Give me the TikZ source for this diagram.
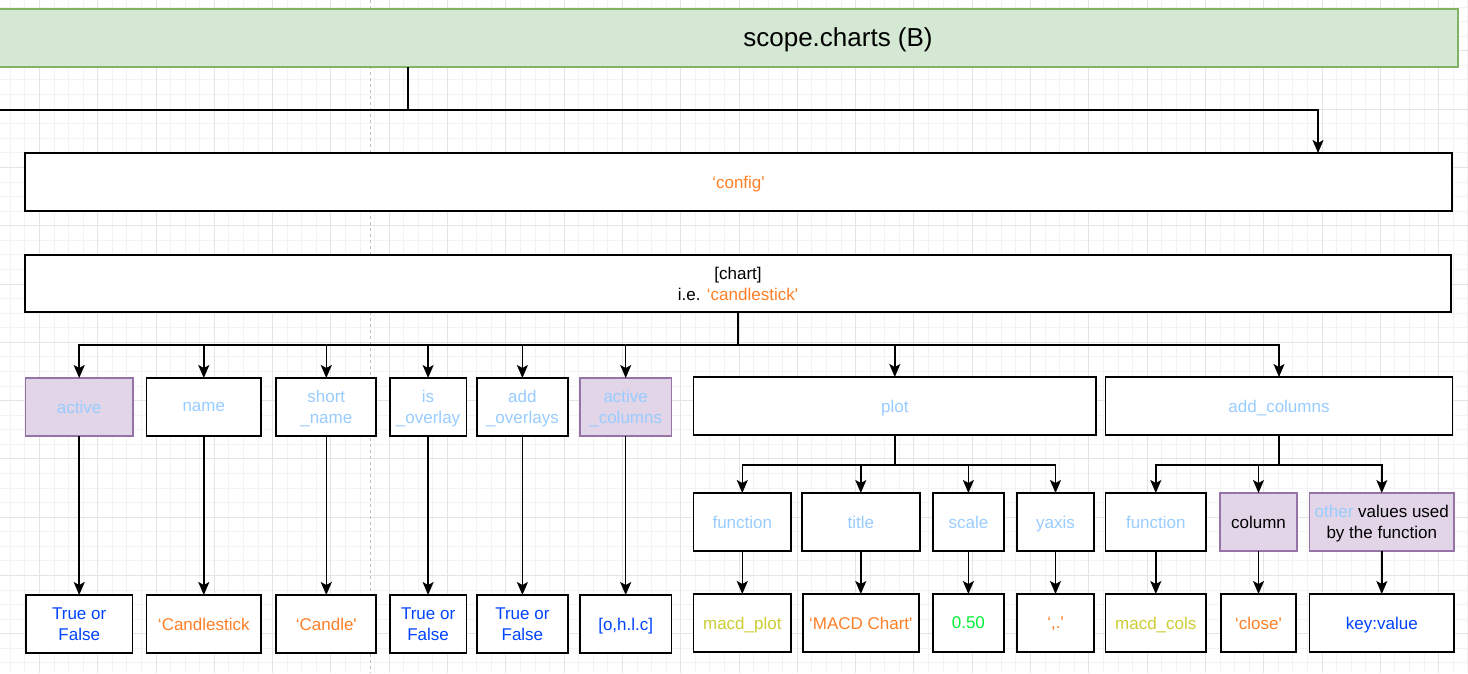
\documentclass[tikz,border=0pt]{standalone}
\usepackage{fontspec}
\setmainfont{Liberation Sans}
\usetikzlibrary{positioning,arrows.meta,backgrounds}

\definecolor{keyblue}{HTML}{99CCFF}
\definecolor{valblue}{HTML}{0044FF}
\definecolor{strorange}{HTML}{FF7F27}
\definecolor{fnyellow}{HTML}{CCCC33}
\definecolor{numgreen}{HTML}{00EE33}
\definecolor{setfill}{HTML}{E1D5E7}
\definecolor{setdraw}{HTML}{9673A6}
\definecolor{scopefill}{HTML}{D5E8D4}
\definecolor{scopedraw}{HTML}{82B366}
\definecolor{gridminor}{HTML}{F3F3F3}
\definecolor{gridmajor}{HTML}{E4E4E4}

\begin{document}
\begin{tikzpicture}[x=1pt, y=-1pt, node distance=43pt,
  font=\fontsize{17}{21}\selectfont,
  box/.style={draw, line width=1.7pt, fill=white, inner sep=0pt, outer sep=0pt,
              align=center, minimum height=58pt, text depth=-1pt},
  keybox/.style={box, text=keyblue},
  setbox/.style={box, draw=setdraw, fill=setfill},
  arr/.style={-{Stealth[length=13pt,width=11pt,inset=3pt]}, line width=1.5pt},
  bus/.style={to path={(\tikztostart.south) -- ++(0,#1) -| (\tikztotarget.north)}},
]
\useasboundingbox (0,0) rectangle (1468,673);
% grid
\foreach \i in {0,...,100} \draw[gridminor, line width=0.8pt] ({10.2+14.575*\i},0) -- ++(0,673);
\foreach \j in {0,...,46}  \draw[gridminor, line width=0.8pt] (0,{7+14.575*\j}) -- ++(1468,0);
\foreach \i in {0,...,25}  \draw[gridmajor, line width=0.8pt] ({39.35+58.3*\i},0) -- ++(0,673);
\foreach \j in {0,...,11}  \draw[gridmajor, line width=0.8pt] (0,{50.7+58.3*\j}) -- ++(1468,0);
\draw[gray!50, dashed, line width=0.8pt] (370,0) -- (370,673);

\node[box, draw=scopedraw, fill=scopefill, minimum width=1478pt, minimum height=58.5pt] (scope) at (719,38) {};
\node[font=\fontsize{26}{30}\selectfont] (scopetitle) at (838,40) {scope.charts (B)};
\node[box, text=strorange, minimum width=1427pt] (config) at (738.5,182) {‘config\textquotesingle};
\node[box, minimum width=1426pt, minimum height=57pt] (chart) at (738,283.5)
  {[chart]\\i.e. \textcolor{strorange}{‘candlestick\textquotesingle}};

\node[setbox, text=keyblue, minimum width=107.6pt] (active)  at (79.2,407)  {active};
\node[keybox, minimum width=114.8pt]               (name)    at (203.8,407) {name};
\node[keybox, minimum width=100pt]                 (short)   at (326.3,407) {short\\\_name};
\node[keybox, minimum width=76.8pt]                (isover)  at (428.1,407) {is\\\_overlay};
\node[keybox, minimum width=91.1pt]                (addover) at (522.4,407) {add\\\_overlays};
\node[setbox, text=keyblue, minimum width=91.4pt]  (actcols) at (625.7,407) {active\\\_columns};
\node[keybox, minimum width=402.4pt]               (plot)    at (894.8,406) {plot};
\node[keybox, minimum width=346.8pt]               (addcols) at (1279,406)  {add\_columns};

\node[keybox, minimum width=97.4pt]  (pfunc)  at (742.3,522)  {function};
\node[keybox, minimum width=117.7pt] (ptitle) at (860.8,522)  {title};
\node[keybox, minimum width=71.2pt]  (pscale) at (968.4,522)  {scale};
\node[keybox, minimum width=77pt]    (pyaxis) at (1055.5,522) {yaxis};
\node[keybox, minimum width=100.4pt] (afunc)  at (1155.8,522) {function};
\node[setbox, minimum width=77pt]    (acol)   at (1258.5,522) {column};
\node[setbox, minimum width=144.4pt] (aother) at (1381.8,522)
  {\textcolor{keyblue}{other} values used\\by the function};

\node[box, text=valblue, below=159pt of active, minimum width=106.3pt]  (activeval)  {True or\\False};
\node[box, text=strorange, below=159pt of name, minimum width=114.8pt]  (nameval)    {‘Candlestick};
\node[box, text=strorange, below=159pt of short, minimum width=100pt]   (shortval)   {‘Candle\textquotesingle};
\node[box, text=valblue, below=159pt of isover, minimum width=76.8pt]   (isoverval)  {True or\\False};
\node[box, text=valblue, below=159pt of addover, minimum width=91.1pt]  (addoverval) {True or\\False};
\node[box, text=valblue, below=159pt of actcols, minimum width=91.4pt]  (actcolsval) {[o,h.l.c]};
\node[box, text=fnyellow, below=of pfunc, minimum width=97.4pt]    (pfuncval)  {macd\_plot};
\node[box, text=strorange, below=of ptitle, minimum width=116.1pt] (ptitleval) {‘MACD Chart\textquotesingle};
\node[box, text=numgreen, below=of pscale, minimum width=71.2pt]   (pscaleval) {0.50};
\node[box, text=strorange, below=of pyaxis, minimum width=77pt]    (pyaxisval) {‘,.\textquotesingle};
\node[box, text=fnyellow, below=of afunc, minimum width=100.4pt]   (afuncval)  {macd\_cols};
\node[box, text=strorange, below=of acol, minimum width=75.3pt]    (acolval)   {‘close\textquotesingle};
\node[box, text=valblue, below=of aother, minimum width=144.4pt]   (aotherval) {key:value};

\draw[line width=1.5pt] ([xshift=-311pt]scope.south) |- (-2,110);
\draw[arr] ([xshift=-311pt]scope.south) -- ++(0,42.5) -| ([xshift=579.5pt]config.north);
\path[arr]
    (chart)   edge[bus=33] (active)
    (chart)   edge[bus=33] (name)
    (chart)   edge[bus=33] (short)
    (chart)   edge[bus=33] (isover)
    (chart)   edge[bus=33] (addover)
    (chart)   edge[bus=33] (actcols)
    (chart)   edge[bus=33] (plot)
    (chart)   edge[bus=33] (addcols)
    (plot)    edge[bus=30] (pfunc)
    (plot)    edge[bus=30] (ptitle)
    (plot)    edge[bus=30] (pscale)
    (plot)    edge[bus=30] (pyaxis)
    (addcols) edge[bus=30] (afunc)
    (addcols) edge[bus=30] (acol)
    (addcols) edge[bus=30] (aother)
    (active)  edge (activeval)
    (name)    edge (nameval)
    (short)   edge (shortval)
    (isover)  edge (isoverval)
    (addover) edge (addoverval)
    (actcols) edge (actcolsval)
    (pfunc)   edge (pfuncval)
    (ptitle)  edge (ptitleval)
    (pscale)  edge (pscaleval)
    (pyaxis)  edge (pyaxisval)
    (afunc)   edge (afuncval)
    (acol)    edge (acolval)
    (aother)  edge (aotherval)
; %-path-%
\end{tikzpicture}
\end{document}
